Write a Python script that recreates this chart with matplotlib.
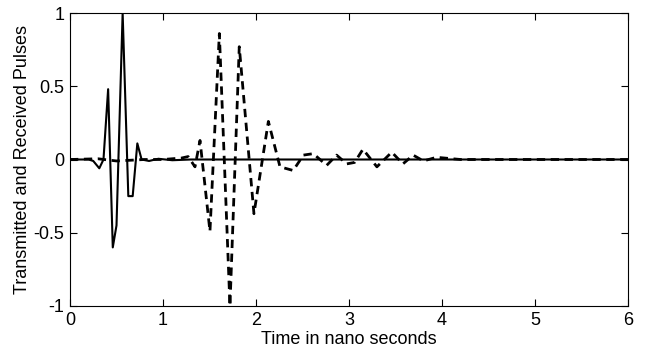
import matplotlib
matplotlib.use("Agg")
import matplotlib.pyplot as plt

plt.rcParams["font.family"] = ["Liberation Sans", "DejaVu Sans"]

# transmitted pulse (solid)
t_tx = [0, 0.2, 0.25, 0.315, 0.36, 0.41, 0.46, 0.5, 0.566, 0.627, 0.674, 0.724,
        0.77, 0.85, 0.95, 1.1, 1.3, 2.0, 3.0, 4.0, 5.0, 6.0]
y_tx = [0, 0, -0.01, -0.06, 0.0, 0.48, -0.60, -0.45, 1.0, -0.25, -0.25, 0.11,
        0.0, -0.01, 0.005, -0.005, 0, 0, 0, 0, 0, 0]

# received pulse (dashed)
t_rx = [0, 0.3, 0.5, 0.8, 1.0, 1.2, 1.27, 1.344, 1.398, 1.505, 1.606, 1.72,
        1.82, 1.978, 2.133, 2.258, 2.40, 2.51, 2.616, 2.76, 2.867, 2.975,
        3.06, 3.15, 3.30, 3.46, 3.58, 3.69, 3.80, 3.94, 4.2, 5.0, 6.0]
y_rx = [0, 0.005, -0.01, 0.0, 0.0, 0.01, 0.02, -0.05, 0.13, -0.49, 0.86, -1.0,
        0.77, -0.37, 0.26, -0.05, -0.075, 0.03, 0.04, -0.04, 0.03, -0.03,
        -0.02, 0.07, -0.05, 0.05, -0.03, 0.03, -0.01, 0.015, 0.0, 0.0, 0.0]

fig = plt.figure(figsize=(6.48, 3.51), dpi=100)
ax = fig.add_axes([70 / 648, 1 - 306 / 351, 558 / 648, 293 / 351])

ax.plot(t_rx, y_rx, color="black", linestyle="--", linewidth=2, dashes=(3, 2))
ax.plot(t_tx, y_tx, color="black", linestyle="-", linewidth=1.5)

ax.set_xlim(0, 6)
ax.set_ylim(-1, 1)
ax.set_xticks([0, 1, 2, 3, 4, 5, 6])
ax.set_yticks([-1, -0.5, 0, 0.5, 1])
ax.set_yticklabels(["-1", "-0.5", "0", "0.5", "1"])
ax.tick_params(direction="in", top=True, right=True, length=5, labelsize=13, pad=4)
ax.set_xlabel("Time in nano seconds", fontsize=13, labelpad=2)
ax.set_ylabel("Transmitted and Received Pulses", fontsize=13, labelpad=2)

fig.savefig("out.png", dpi=100)
